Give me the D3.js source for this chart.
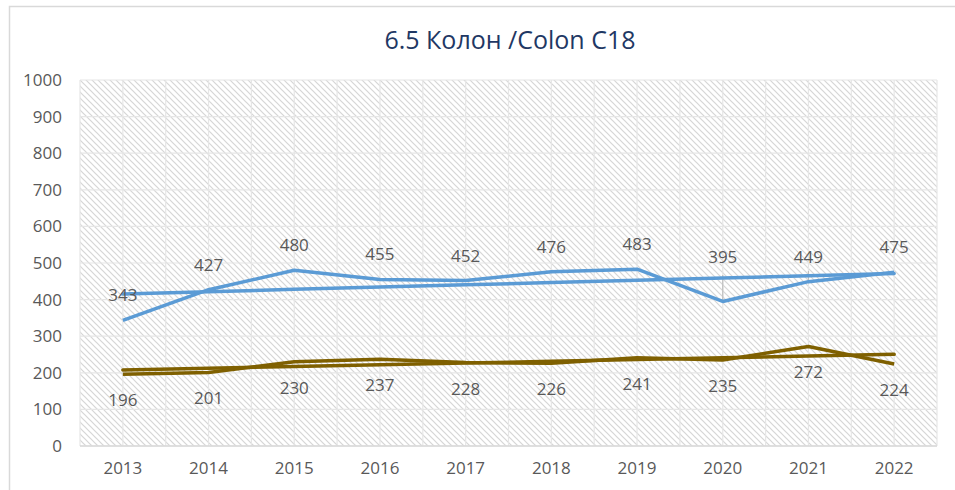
<!DOCTYPE html>
<html>
<head>
<meta charset="utf-8">
<script src="https://cdn.jsdelivr.net/npm/d3@7"></script>
<style>
  body { margin: 0; background: #fff; }
  text { font-family: "Open Sans", "Noto Sans", sans-serif; }
</style>
</head>
<body>
<div id="chart"></div>
<script>
var years = ["2013", "2014", "2015", "2016", "2017", "2018", "2019", "2020", "2021", "2022"];
var seriesBlue = [343, 427, 480, 455, 452, 476, 483, 395, 449, 475];
var seriesBrown = [196, 201, 230, 237, 228, 226, 241, 235, 272, 224];
var yTicks = [0, 100, 200, 300, 400, 500, 600, 700, 800, 900, 1000];
var title = "6.5 Колон /Colon C18";

var width = 955;
var height = 490;
var plotL = 80, plotR = 937, plotT = 80, plotB = 446;

var svg = d3.select("#chart")
    .append("svg")
    .attr("width", width)
    .attr("height", height);

// hatch pattern for plot area
var defs = svg.append("defs");
var pat = defs.append("pattern")
    .attr("id", "hatch")
    .attr("patternUnits", "userSpaceOnUse")
    .attr("width", 6)
    .attr("height", 6);
pat.append("rect").attr("width", 6).attr("height", 6).attr("fill", "#fff");
pat.append("path")
    .attr("d", "M-1,-1 L7,7 M-1,5 L1,7 M5,-1 L7,1")
    .attr("stroke", "#d6d6d6")
    .attr("stroke-width", 1.2);

// chart border
svg.append("rect")
    .attr("x", 9.5).attr("y", 6.5)
    .attr("width", 960).attr("height", 500)
    .attr("fill", "none")
    .attr("stroke", "#d9d9d9")
    .attr("stroke-width", 1.5);

var x = d3.scaleBand().domain(years).range([plotL, plotR]);
var y = d3.scaleLinear().domain([0, 1000]).range([plotB, plotT]);
var cx = function(d, i){ return x(years[i]) + x.bandwidth() / 2; };

svg.append("rect")
    .attr("x", plotL).attr("y", plotT)
    .attr("width", plotR - plotL).attr("height", plotB - plotT)
    .attr("fill", "url(#hatch)");

// gridlines
svg.append("g").selectAll("line")
    .data(yTicks)
    .enter()
    .append("line")
    .attr("x1", plotL).attr("x2", plotR)
    .attr("y1", function(d){ return y(d); })
    .attr("y2", function(d){ return y(d); })
    .attr("stroke", "#e6e6e6")
    .attr("stroke-width", 1.2);

var vgrid = [];
years.forEach(function(d){
    vgrid.push(x(d));
    vgrid.push(x(d) + x.bandwidth() / 2);
});
vgrid.push(plotR);
svg.append("g").selectAll("line")
    .data(vgrid)
    .enter()
    .append("line")
    .attr("x1", function(d){ return d; })
    .attr("x2", function(d){ return d; })
    .attr("y1", plotT).attr("y2", plotB)
    .attr("stroke", "#e6e6e6")
    .attr("stroke-width", 1.2);

// axis line
svg.append("line")
    .attr("x1", plotL).attr("x2", plotR)
    .attr("y1", plotB).attr("y2", plotB)
    .attr("stroke", "#d9d9d9")
    .attr("stroke-width", 1.5);

// y axis
var yAxis = svg.append("g")
    .attr("transform", "translate(" + (plotL - 4) + ",0)")
    .call(d3.axisLeft(y).tickValues(yTicks).tickFormat(d3.format("d")).tickSize(0).tickPadding(14));
yAxis.select(".domain").remove();
yAxis.selectAll("text")
    .attr("fill", "#595959")
    .style("font-size", "17px");

// x axis
var xAxis = svg.append("g")
    .attr("transform", "translate(0," + plotB + ")")
    .call(d3.axisBottom(x).tickSize(0).tickPadding(16));
xAxis.select(".domain").remove();
xAxis.selectAll("text")
    .attr("fill", "#595959")
    .style("font-size", "17px");

// title
svg.append("text")
    .attr("x", 510)
    .attr("y", 49)
    .attr("text-anchor", "middle")
    .attr("fill", "#1f3864")
    .style("font-size", "25px")
    .text(title);

// linear trend (least squares, as the spreadsheet trendline)
function trend(vals){
    var n = vals.length;
    var mx = (n - 1) / 2;
    var my = d3.mean(vals);
    var sxy = 0, sxx = 0;
    vals.forEach(function(v, i){
        sxy += (i - mx) * (v - my);
        sxx += (i - mx) * (i - mx);
    });
    var b = sxy / sxx;
    return vals.map(function(v, i){ return my + b * (i - mx); });
}

var line = d3.line()
    .x(function(d, i){ return cx(d, i); })
    .y(function(d){ return y(d); });

function drawSeries(vals, color){
    svg.append("path")
        .datum(vals)
        .attr("d", line)
        .attr("fill", "none")
        .attr("stroke", color)
        .attr("stroke-width", 3.5)
        .attr("stroke-linejoin", "round");
    svg.append("path")
        .datum(trend(vals))
        .attr("d", line)
        .attr("fill", "none")
        .attr("stroke", color)
        .attr("stroke-width", 3.5)
        .attr("stroke-linecap", "round");
}

// leader lines for moved labels
var leaders = [{i: 7, from: 275}, {i: 8, from: 271}];
svg.append("g").selectAll("line")
    .data(leaders)
    .enter()
    .append("line")
    .attr("x1", function(d){ return cx(null, d.i); })
    .attr("x2", function(d){ return cx(null, d.i); })
    .attr("y1", function(d){ return d.from; })
    .attr("y2", function(d){ return y(seriesBlue[d.i]); })
    .attr("stroke", "#bfbfbf")
    .attr("stroke-width", 1.2);

drawSeries(seriesBrown, "#7f6000");
drawSeries(seriesBlue, "#5b9bd5");

// data labels
svg.append("g").selectAll("text")
    .data(seriesBlue)
    .enter()
    .append("text")
    .attr("x", cx)
    .attr("y", function(d, i){ return y(d) - (i == 7 ? 38 : 19); })
    .attr("text-anchor", "middle")
    .attr("fill", "#595959")
    .style("font-size", "17px")
    .text(function(d){ return d; });

svg.append("g").selectAll("text")
    .data(seriesBrown)
    .enter()
    .append("text")
    .attr("x", cx)
    .attr("y", function(d, i){ return y(d) + 32; })
    .attr("text-anchor", "middle")
    .attr("fill", "#595959")
    .style("font-size", "17px")
    .text(function(d){ return d; });
</script>
</body>
</html>
